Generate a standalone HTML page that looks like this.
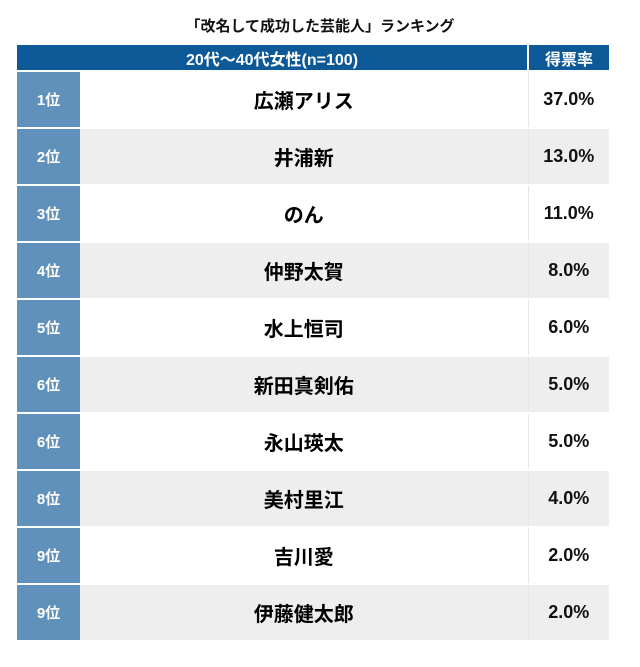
<!DOCTYPE html>
<html><head><meta charset="utf-8">
<style>
body{margin:0;width:640px;height:667px;background:#fff;font-family:"Liberation Sans","Noto Sans CJK JP",sans-serif;position:relative;overflow:hidden}
.t{position:absolute;top:15px;left:0;width:640px;text-align:center;font-size:15px;font-weight:bold;color:#111}
table{position:absolute;left:17px;top:45px;border-collapse:collapse;width:592px}
th{background:#0d5897;color:#fff;font-size:16px;height:25px;padding:0;font-weight:bold}
th.p{border-left:2px solid #fff;width:80px}
td{height:55px;padding:0;font-weight:bold;text-align:center;border-top:2px solid #fff}
td.r{background:#5f91ba;color:#fff;width:63px;font-size:15px}
td.n{font-size:20px;color:#000}
td.p{font-size:18px;color:#111;border-left:1px solid #e6e6e6}
tr:nth-child(even) td.n,tr:nth-child(even) td.p{background:#eeeeee}
</style></head><body>
<div class="t">「改名して成功した芸能人」ランキング</div>
<table>
<thead><tr><th colspan="2">20代～40代女性(n=100)</th><th class="p">得票率</th></tr></thead>
<tbody id="tb"></tbody></table>
<script>
const ranks=["1位","2位","3位","4位","5位","6位","6位","8位","9位","9位"];
const names=["広瀬アリス","井浦新","のん","仲野太賀","水上恒司","新田真剣佑","永山瑛太","美村里江","吉川愛","伊藤健太郎"];
const values=[37.0,13.0,11.0,8.0,6.0,5.0,5.0,4.0,2.0,2.0];
const tb=document.getElementById('tb');
ranks.forEach((r,i)=>{
const tr=document.createElement('tr');


const a=document.createElement('td');a.className='r';a.textContent=r;


const b=document.createElement('td');b.className='n';b.textContent=names[i];


const c=document.createElement('td');c.className='p';c.textContent=values[i].toFixed(1)+'%';


tr.append(a,b,c);tb.appendChild(tr);
});
</script>
</body></html>
